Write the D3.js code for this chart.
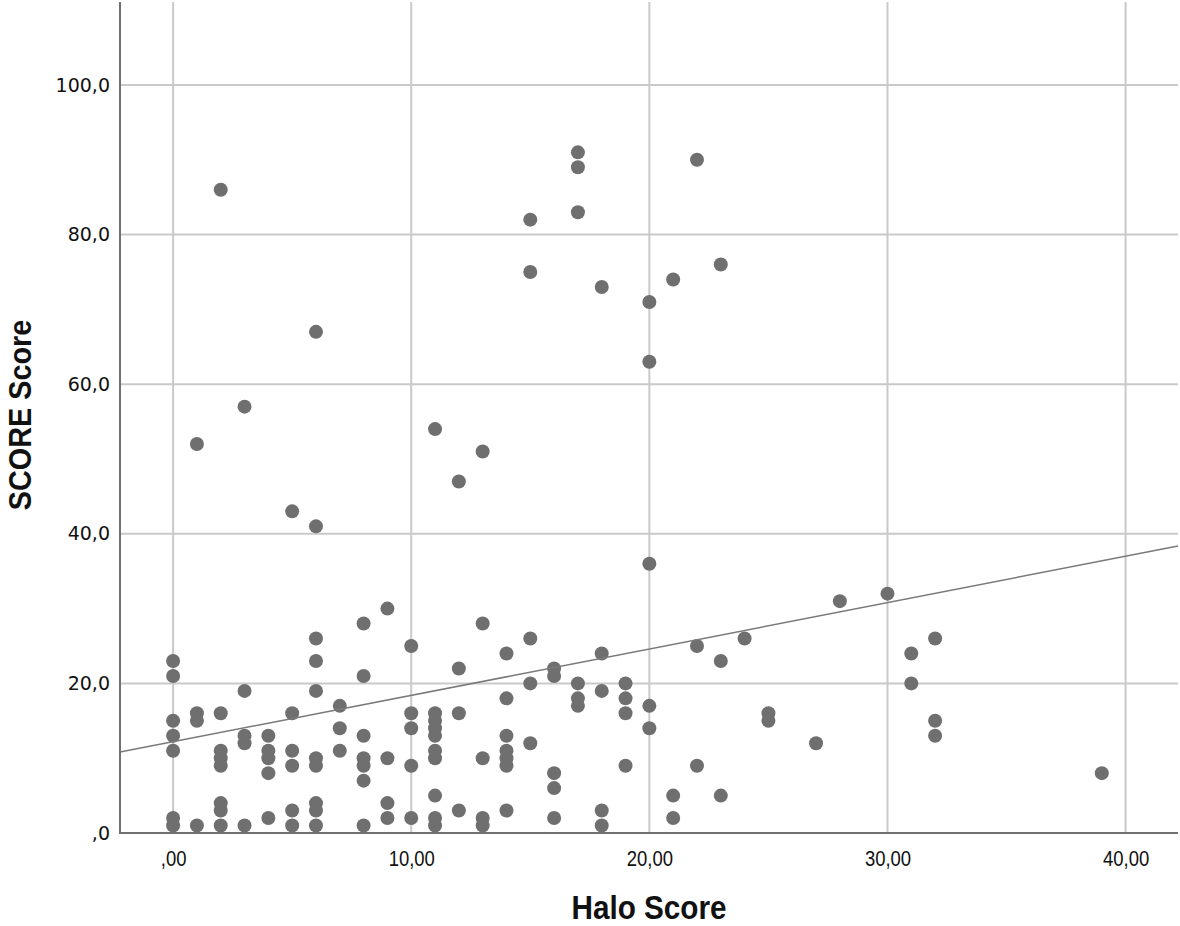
<!DOCTYPE html>
<html>
<head>
<meta charset="utf-8">
<script src="https://cdn.jsdelivr.net/npm/d3@7"></script>
<style>
  html, body { margin: 0; padding: 0; background: #fff; }
  svg { display: block; }
</style>
</head>
<body>
<svg id="chart" width="1180" height="926"></svg>
<script>
// ---- Data ----
const haloScore = [
  0,0,0,0,0,0,0,
  1,1,1,1,
  2,2,2,2,2,2,2,2,
  3,3,3,3,3,
  4,4,4,4,4,
  5,5,5,5,5,5,
  6,6,6,6,6,6,6,6,6,6,
  7,7,7,
  8,8,8,8,8,8,8,
  9,9,9,9,
  10,10,10,10,10,
  11,11,11,11,11,11,11,11,11,11,
  12,12,12,12,
  13,13,13,13,13,
  14,14,14,14,14,14,14,
  15,15,15,15,15,
  16,16,16,16,16,
  17,17,17,17,17,17,
  18,18,18,18,18,
  19,19,19,19,
  20,20,20,20,20,
  21,21,21,
  22,22,22,
  23,23,23,
  24,
  25,25,
  27,
  28,
  30,
  31,31,
  32,32,32,
  39
];
const scoreScore = [
  23,21,15,13,11,2,1,
  52,16,15,1,
  86,16,11,10,9,4,3,1,
  57,19,13,12,1,
  13,11,10,8,2,
  43,16,11,9,3,1,
  67,41,26,23,19,10,9,4,3,1,
  17,14,11,
  28,21,13,10,9,7,1,
  30,10,4,2,
  25,16,14,9,2,
  54,16,15,14,13,11,10,5,2,1,
  47,22,16,3,
  51,28,10,2,1,
  24,18,13,11,10,9,3,
  82,75,26,20,12,
  22,21,8,6,2,
  91,89,83,20,18,17,
  73,24,19,3,1,
  20,18,16,9,
  71,63,36,17,14,
  74,5,2,
  90,25,9,
  76,23,5,
  26,
  16,15,
  12,
  31,
  32,
  24,20,
  26,15,13,
  8
];
// Fit line at total, as drawn in the reference (intercept, slope)
const fitIntercept = 12.2;
const fitSlope = 0.62;

const xTicks = [0, 10, 20, 30, 40];
const xTickLabels = [",00", "10,00", "20,00", "30,00", "40,00"];
const yTicks = [0, 20, 40, 60, 80, 100];
const yTickLabels = [",0", "20,0", "40,0", "60,0", "80,0", "100,0"];
const xTitle = "Halo Score";
const yTitle = "SCORE Score";

// ---- Layout ----
const plotLeft = 120, plotRight = 1178, plotTop = 2, plotBottom = 833;
const svg = d3.select("#chart");

const x = d3.scaleLinear().domain([-2.23, 42.2]).range([plotLeft, plotRight]);
const y = d3.scaleLinear().domain([0, 111.1]).range([plotBottom, plotTop]);

const gridColor = "#c9c9c9";
const axisColor = "#707070";
const dotColor = "#6f6f6f";

// gridlines
const grid = svg.append("g");
grid.selectAll("line.v").data(xTicks).join("line")
  .attr("x1", d => x(d)).attr("x2", d => x(d))
  .attr("y1", plotTop).attr("y2", plotBottom)
  .attr("stroke", gridColor).attr("stroke-width", 2);
grid.selectAll("line.h").data(yTicks.filter(d => d > 0)).join("line")
  .attr("x1", plotLeft).attr("x2", plotRight)
  .attr("y1", d => y(d)).attr("y2", d => y(d))
  .attr("stroke", gridColor).attr("stroke-width", 2);

// points
const n = haloScore.length;
const pts = d3.range(n).map(i => ({ h: haloScore[i], s: scoreScore[i] }));
svg.append("g").selectAll("circle").data(pts).join("circle")
  .attr("cx", d => x(d.h)).attr("cy", d => y(d.s)).attr("r", 7)
  .attr("fill", dotColor);

// fit line
const [x0, x1] = x.domain();
svg.append("line")
  .attr("x1", x(x0)).attr("y1", y(fitIntercept + fitSlope * x0))
  .attr("x2", x(x1)).attr("y2", y(fitIntercept + fitSlope * x1))
  .attr("stroke", "#7a7a7a").attr("stroke-width", 1.5);

// axes
const xAxis = d3.axisBottom(x).tickValues(xTicks)
  .tickFormat((d, i) => xTickLabels[i]).tickSize(0).tickPadding(17);
const gx = svg.append("g").attr("transform", `translate(0,${plotBottom})`).call(xAxis);
gx.select(".domain").remove();
gx.selectAll("text").attr("font-family", "'Liberation Sans', Arial, sans-serif")
  .attr("font-size", 22).attr("fill", "#111")
  .attr("transform", "scale(0.84,1)");

const yAxis = d3.axisLeft(y).tickValues(yTicks)
  .tickFormat((d, i) => yTickLabels[i]).tickSize(0).tickPadding(10);
const gy = svg.append("g").attr("transform", `translate(${plotLeft},0)`).call(yAxis);
gy.select(".domain").remove();
gy.selectAll("text").attr("font-family", "'DejaVu Sans', sans-serif")
  .attr("font-size", 19).attr("fill", "#111");

svg.append("line").attr("x1", plotLeft).attr("x2", plotLeft)
  .attr("y1", plotTop).attr("y2", plotBottom + 1)
  .attr("stroke", axisColor).attr("stroke-width", 2);
svg.append("line").attr("x1", plotLeft - 1).attr("x2", plotRight)
  .attr("y1", plotBottom).attr("y2", plotBottom)
  .attr("stroke", axisColor).attr("stroke-width", 2);

// titles
svg.append("text").attr("transform", "translate(649,919) scale(0.9,1)")
  .attr("text-anchor", "middle")
  .attr("font-family", "'Liberation Sans', Arial, sans-serif")
  .attr("font-weight", "bold").attr("font-size", 33).attr("fill", "#111")
  .text(xTitle);
svg.append("text").attr("transform", "translate(31,415) rotate(-90) scale(0.9,1)")
  .attr("text-anchor", "middle")
  .attr("font-family", "'Liberation Sans', Arial, sans-serif")
  .attr("font-weight", "bold").attr("font-size", 32).attr("fill", "#111")
  .text(yTitle);
</script>
</body>
</html>
